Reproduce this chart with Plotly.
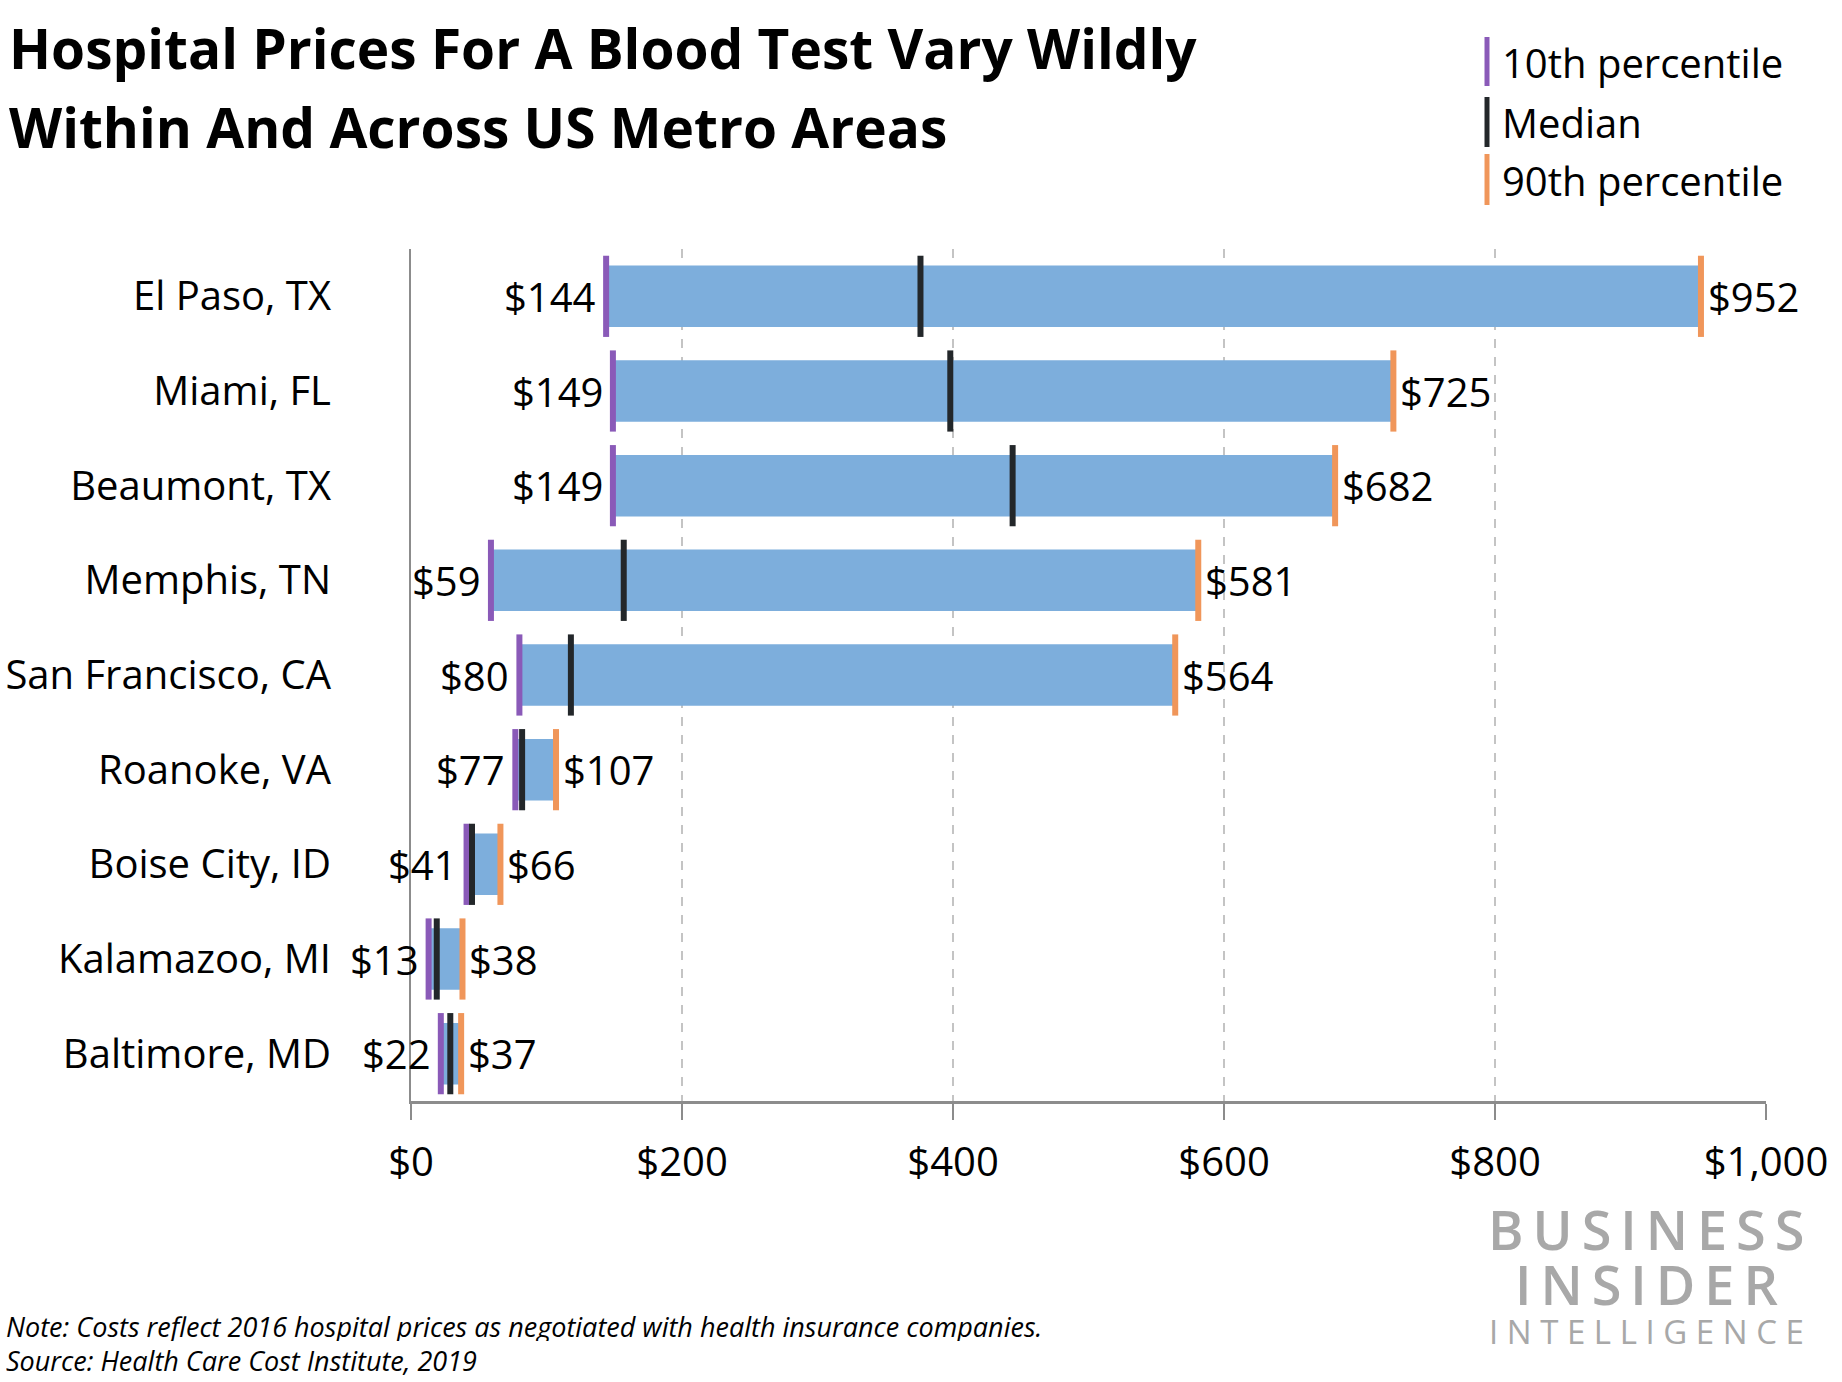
import plotly.graph_objects as go

# data
cities = ["El Paso, TX", "Miami, FL", "Beaumont, TX", "Memphis, TN",
          "San Francisco, CA", "Roanoke, VA", "Boise City, ID",
          "Kalamazoo, MI", "Baltimore, MD"]
p10 = [144, 149, 149, 59, 80, 77, 41, 13, 22]
median = [376, 398, 444, 157, 118, 82, 45, 19, 29]
p90 = [952, 725, 682, 581, 564, 107, 66, 38, 37]
xticks = [0, 200, 400, 600, 800, 1000]

BLUE = "#7DAEDC"
PURPLE = "#8A5AB8"
DARK = "#23272A"
ORANGE = "#F0965A"
FONT = "Open Sans"

# figure fills the whole window (body margin removed in post_script below)
W, H = 1842, 1382
L, T = 411, 249
R = W - 1766
B = H - 1101
PW, PH = W - L - R, H - T - B


# page pixel -> paper helpers for the decorations outside the plot
def px_x(x):
    return (x - L) / PW


def px_y(y):
    return (H - B - y) / PH


fig = go.Figure()

fig.add_trace(go.Bar(
    y=cities, x=[b - a for a, b in zip(p10, p90)], base=p10,
    orientation="h", width=0.65, marker=dict(color=BLUE, line=dict(width=0)),
    hoverinfo="skip", showlegend=False,
))

for vals, col in [(p10, PURPLE), (median, DARK), (p90, ORANGE)]:
    fig.add_trace(go.Scatter(
        x=vals, y=cities, mode="markers", showlegend=False, hoverinfo="skip",
        cliponaxis=False,
        marker=dict(symbol="line-ns", size=58, color=col,
                    line=dict(width=6, color=col)),
    ))

ann = []
for c, a, b in zip(cities, p10, p90):
    ann.append(dict(x=a, y=c, xref="x", yref="y", text=f"${a}", showarrow=False,
                    xanchor="right", yanchor="middle", xshift=-8,
                    font=dict(family=FONT, size=40, color="black")))
    ann.append(dict(x=b, y=c, xref="x", yref="y", text=f"${b}", showarrow=False,
                    xanchor="left", yanchor="middle", xshift=5,
                    font=dict(family=FONT, size=40, color="black")))

# title
for txt, yc in [("Hospital Prices For A Blood Test Vary Wildly", 48),
                ("Within And Across US Metro Areas", 126)]:
    ann.append(dict(x=px_x(7), y=px_y(yc), xref="paper", yref="paper", text=txt,
                    showarrow=False, xanchor="left", yanchor="middle",
                    font=dict(family=FONT, size=55, color="black", weight="bold")))

# legend
shapes = []
for (y0, y1), col, txt in [((37, 86), PURPLE, "10th percentile"),
                           ((97, 147), DARK, "Median"),
                           ((154, 205), ORANGE, "90th percentile")]:
    shapes.append(dict(type="line", xref="paper", yref="paper",
                       x0=px_x(1487), x1=px_x(1487), y0=px_y(y0), y1=px_y(y1),
                       line=dict(color=col, width=5)))
    ann.append(dict(x=px_x(1500), y=px_y((y0 + y1) / 2 + 1), xref="paper", yref="paper",
                    text=txt, showarrow=False, xanchor="left", yanchor="middle",
                    font=dict(family=FONT, size=40, color="black")))

# notes
for txt, yc in [("Note: Costs reflect 2016 hospital prices as negotiated with health insurance companies.", 1326),
                ("Source: Health Care Cost Institute, 2019", 1360)]:
    ann.append(dict(x=px_x(5), y=px_y(yc), xref="paper", yref="paper", text=txt,
                    showarrow=False, xanchor="left", yanchor="middle",
                    height=30, borderpad=0,
                    font=dict(family=FONT, size=27, color="black", style="italic")))

# logo
thin = "\u2009"
for txt, yc, size, wt, hgt in [(thin.join("BUSINESS"), 1229, 54, 600, 46),
                               (thin.join("INSIDER"), 1284, 54, 600, 46),
                               (" ".join("INTELLIGENCE"), 1331, 33, 400, 30)]:
    ann.append(dict(x=px_x(1646), y=px_y(yc), xref="paper", yref="paper", text=txt,
                    showarrow=False, xanchor="center", yanchor="middle",
                    height=hgt, borderpad=0,
                    font=dict(family=FONT, size=size, color="#A8A8A8", weight=wt)))

fig.update_layout(
    width=W, height=H, margin=dict(l=L, r=R, t=T, b=B, autoexpand=False),
    paper_bgcolor="white", plot_bgcolor="white",
    barmode="overlay", annotations=ann, shapes=shapes,
    font=dict(family=FONT, size=40, color="black"),
)
fig.update_xaxes(
    range=[0, 1000], tickvals=xticks, ticktext=[f"${v:,}" for v in xticks],
    showgrid=True, gridcolor="#C4C4C4", gridwidth=2, griddash="dash",
    zeroline=False, showline=True, linecolor="#8C8C8C", linewidth=3,
    ticks="outside", ticklen=16, tickwidth=2, tickcolor="#8C8C8C",
    ticklabelstandoff=8, automargin=False,
    tickfont=dict(family=FONT, size=40, color="black"),
)
fig.update_yaxes(
    categoryorder="array", categoryarray=cities, range=[len(cities) - 0.5, -0.5],
    showgrid=False, zeroline=False, showline=True, linecolor="#8C8C8C", linewidth=2,
    ticks="", ticklabelstandoff=70, automargin=False,
    tickfont=dict(family=FONT, size=40, color="black"),
)

fig.write_html("out.html", config={"displayModeBar": False},
               post_script="document.body.style.margin='0';")
